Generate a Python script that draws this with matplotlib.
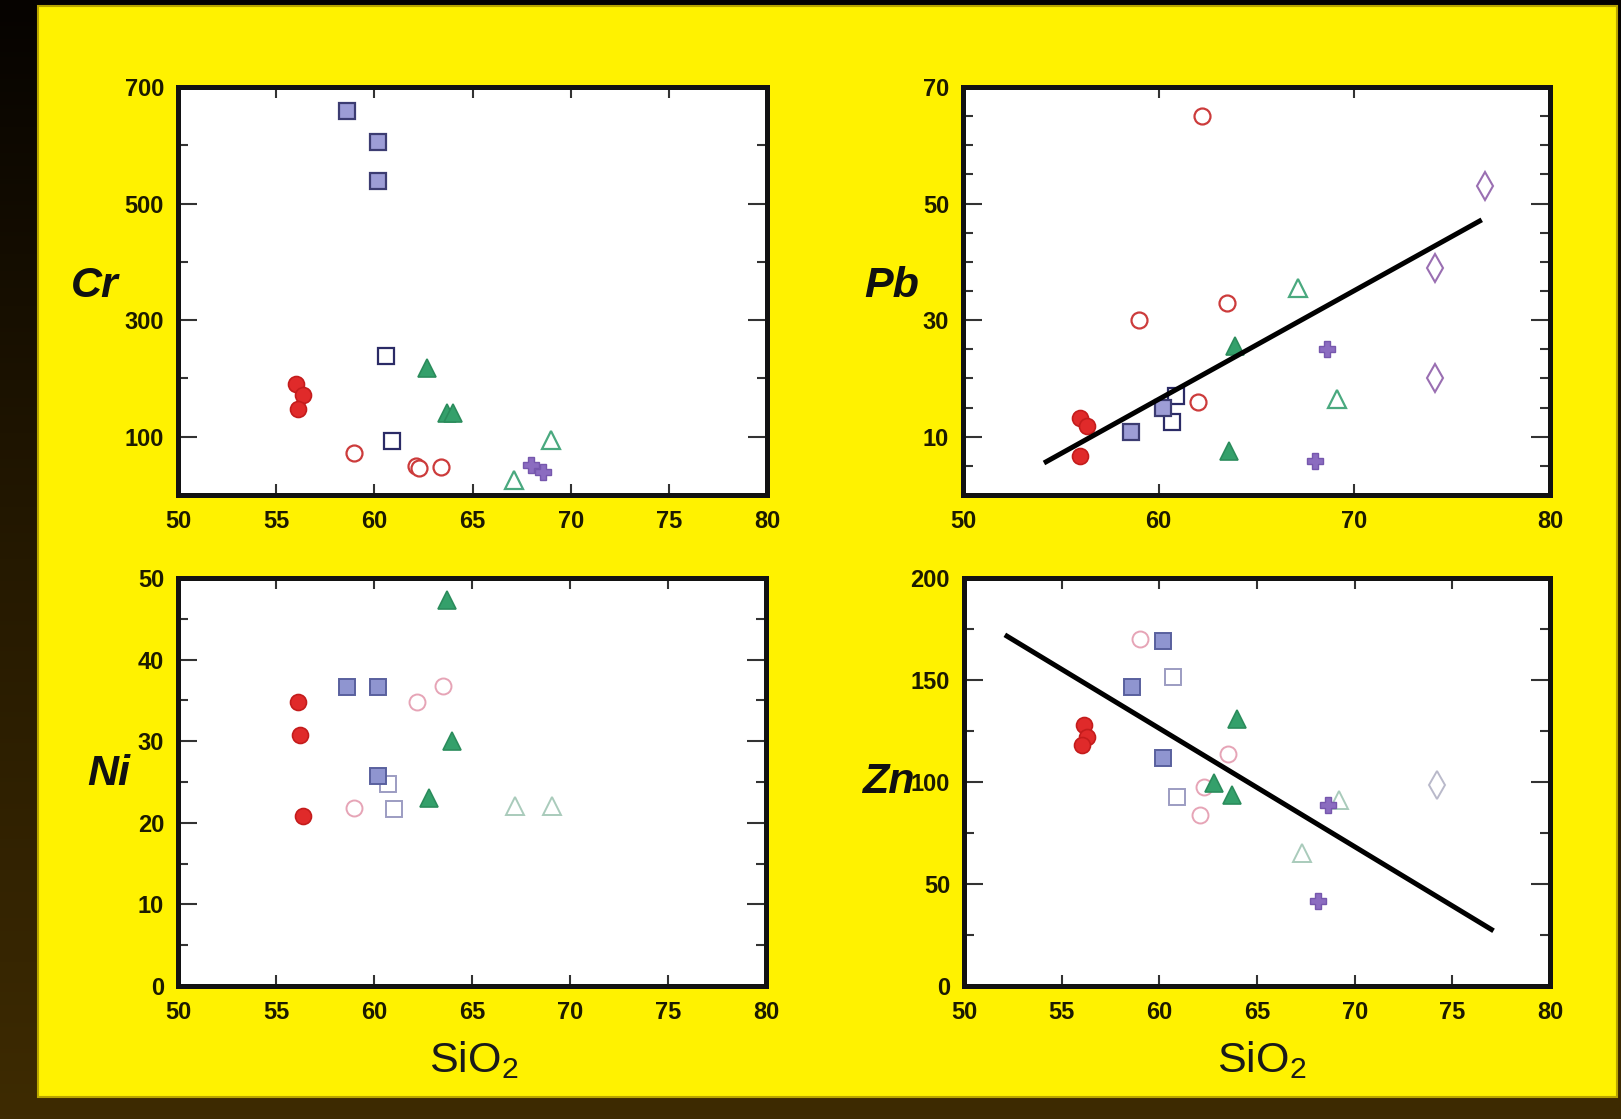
import numpy as np
import matplotlib.pyplot as plt
from matplotlib.colors import LinearSegmentedColormap
from matplotlib.patches import Rectangle
from matplotlib.ticker import FixedLocator, MultipleLocator

plt.rcParams['font.family'] = ['Liberation Sans', 'DejaVu Sans']

# ---- data: (SiO2, element) per sample group ----
# Cr
cr_red_fill = ([56.0, 56.35, 56.1], [190, 172, 148])
cr_red_open = ([58.95, 62.1, 62.3, 63.4], [72, 49, 46, 48])
cr_blue_fill = ([58.6, 60.2, 60.2], [659, 605, 538])
cr_blue_open = ([60.6, 60.9], [238, 92])
cr_green_fill = ([62.7, 63.7, 64.0], [218, 141, 140])
cr_green_open = ([67.1, 69.0], [25, 95])
cr_purple_plus = ([68.0, 68.6], [52, 40])

# Pb
pb_red_fill = ([56.0, 56.35, 56.0], [13.2, 11.8, 6.7])
pb_red_open = ([62.2, 59.0, 63.5, 62.0], [65, 30, 33, 16])
pb_blue_fill = ([58.6, 60.2], [10.8, 15])
pb_blue_open = ([60.9, 60.7], [17, 12.6])
pb_green_fill = ([63.9, 63.6], [25.5, 7.5])
pb_green_open = ([67.1, 69.1], [35.5, 16.5])
pb_purple_plus = ([68.6, 68.0], [25, 5.8])
pb_purple_diamond = ([76.7, 74.1, 74.1], [53, 39, 20])
pb_line_x = [54.25, 76.4]
pb_line_y = [5.7, 47.0]

# Ni
ni_red_fill = ([56.1, 56.2, 56.4], [34.8, 30.8, 20.8])
ni_red_open = ([62.2, 63.5, 59.0], [34.8, 36.8, 21.8])
ni_blue_fill = ([58.6, 60.2, 60.2], [36.7, 36.7, 25.7])
ni_blue_open = ([60.7, 61.0], [24.8, 21.7])
ni_green_fill = ([63.7, 64.0, 62.8], [47.3, 30, 23])
ni_green_open = ([67.2, 69.1], [22, 22])

# Zn
zn_red_fill = ([56.15, 56.3, 56.05], [128, 122, 118])
zn_red_open = ([59.0, 63.5, 62.3, 62.1], [170, 113.8, 97.5, 83.6])
zn_blue_fill = ([60.2, 58.6, 60.2], [169, 146.7, 111.7])
zn_blue_open = ([60.7, 60.9], [151.6, 92.6])
zn_green_fill = ([64.0, 62.8, 63.7], [131, 99.5, 93.4])
zn_green_open = ([69.2, 67.3], [91, 65])
zn_purple_plus = ([68.65, 68.1], [88.8, 41.6])
zn_purple_diamond = ([74.2], [98.6])
zn_line_x = [52.2, 77.0]
zn_line_y = [171.5, 27.7]

W, H = 1621, 1119
fig = plt.figure(figsize=(W / 100, H / 100), dpi=100)

# dark backdrop with the yellow board on it
bg = fig.add_axes([0, 0, 1, 1], zorder=-10)
bg_cmap = LinearSegmentedColormap.from_list('bg', ['#060300', '#251900', '#3e2b02'])
bg.imshow(np.linspace(0, 1, 256).reshape(-1, 1), aspect='auto', cmap=bg_cmap,
          extent=[0, 1, 0, 1], origin='upper')
bg.add_patch(Rectangle((38 / W, 1 - 1097 / H), (1617 - 38) / W, (1097 - 6) / H,
                       facecolor='#fff200', edgecolor='#b8a400', linewidth=1.5,
                       transform=bg.transAxes))
bg.set_xlim(0, 1)
bg.set_ylim(0, 1)
bg.axis('off')

top_style = {
    'red_fill': dict(marker='o', mfc='#e02a2a', mec='#c41c1c', ms=11.5, mew=1.2),
    'red_open': dict(marker='o', mfc='white', mec='#cc3b3b', ms=11.5, mew=1.6),
    'blue_fill': dict(marker='s', mfc='#9d9dd6', mec='#3c3c72', ms=11.5, mew=1.6),
    'blue_open': dict(marker='s', mfc='white', mec='#2b2b66', ms=11.5, mew=1.6),
    'green_fill': dict(marker='^', mfc='#34a06b', mec='#2b8c5c', ms=12.5, mew=1.2),
    'green_open': dict(marker='^', mfc='white', mec='#4aa97f', ms=12.5, mew=1.6),
    'purple_plus': dict(marker='P', mfc='#8b6cc0', mec='#7657ad', ms=12, mew=1.0),
    'purple_diamond': dict(marker='d', mfc='white', mec='#9a6fb2', ms=14, mew=1.5),
}
bottom_style = dict(top_style)
bottom_style['red_open'] = dict(marker='o', mfc='white', mec='#e6a4b6', ms=11.5, mew=1.4)
bottom_style['blue_open'] = dict(marker='s', mfc='white', mec='#9c9cc2', ms=11.5, mew=1.4)
bottom_style['green_open'] = dict(marker='^', mfc='white', mec='#a9cbbb', ms=12.5, mew=1.4)
bottom_style['purple_diamond'] = dict(marker='d', mfc='white', mec='#b9b9ca', ms=14, mew=1.4)
bottom_style['blue_fill'] = dict(marker='s', mfc='#8f95d0', mec='#59609e', ms=11.5, mew=1.4)


def make_axes(rect, yticks, yminor, ymax, xstep):
    ax = fig.add_axes(rect)
    ax.set_facecolor('white')
    ax.set_xlim(50, 80)
    ax.set_ylim(0, ymax)
    ax.xaxis.set_major_locator(MultipleLocator(xstep))
    ax.yaxis.set_major_locator(FixedLocator(yticks))
    ax.yaxis.set_minor_locator(MultipleLocator(yminor))
    ax.tick_params(axis='both', which='both', direction='in', top=True, right=True,
                   color='#333333', width=1.5, labelsize=17, labelcolor='#1c1a00')
    ax.tick_params(axis='x', which='major', length=8, pad=11)
    ax.tick_params(axis='y', which='major', length=14, pad=10)
    ax.tick_params(axis='y', which='minor', length=7)
    for lab in ax.get_xticklabels() + ax.get_yticklabels():
        lab.set_fontweight('bold')
    for sp in ax.spines.values():
        sp.set_linewidth(3.6)
        sp.set_color('#121212')
    return ax


def plot_groups(ax, groups, style):
    for key, (xs, ys) in groups:
        ax.plot(xs, ys, linestyle='none', clip_on=False, zorder=3, **style[key])


ax_cr = make_axes([178 / W, 1 - 495 / H, 589 / W, 408 / H], [100, 300, 500, 700], 100, 700, 5)
plot_groups(ax_cr, [('red_open', cr_red_open), ('blue_open', cr_blue_open),
                    ('green_open', cr_green_open), ('blue_fill', cr_blue_fill),
                    ('green_fill', cr_green_fill), ('purple_plus', cr_purple_plus),
                    ('red_fill', cr_red_fill)], top_style)

ax_pb = make_axes([963 / W, 1 - 495 / H, 587 / W, 408 / H], [10, 30, 50, 70], 5, 70, 10)
plot_groups(ax_pb, [('red_open', pb_red_open), ('blue_open', pb_blue_open),
                    ('green_open', pb_green_open), ('purple_diamond', pb_purple_diamond),
                    ('blue_fill', pb_blue_fill), ('green_fill', pb_green_fill),
                    ('purple_plus', pb_purple_plus), ('red_fill', pb_red_fill)], top_style)
ax_pb.plot(pb_line_x, pb_line_y, color='black', linewidth=3.6, zorder=4)

ax_ni = make_axes([178 / W, 1 - 986 / H, 588 / W, 408 / H], list(range(0, 51, 10)), 5, 50, 5)
plot_groups(ax_ni, [('red_open', ni_red_open), ('blue_open', ni_blue_open),
                    ('green_open', ni_green_open), ('blue_fill', ni_blue_fill),
                    ('green_fill', ni_green_fill), ('red_fill', ni_red_fill)], bottom_style)

ax_zn = make_axes([964 / W, 1 - 986 / H, 586 / W, 408 / H], list(range(0, 201, 50)), 25, 200, 5)
plot_groups(ax_zn, [('red_open', zn_red_open), ('blue_open', zn_blue_open),
                    ('green_open', zn_green_open), ('purple_diamond', zn_purple_diamond),
                    ('blue_fill', zn_blue_fill), ('green_fill', zn_green_fill),
                    ('purple_plus', zn_purple_plus), ('red_fill', zn_red_fill)], bottom_style)
ax_zn.plot(zn_line_x, zn_line_y, color='black', linewidth=3.6, zorder=4)

# element names and SiO2 labels
for name, (px, py) in [('Cr', (95, 286)), ('Pb', (892, 286)), ('Ni', (109, 774)), ('Zn', (888, 782))]:
    fig.text(px / W, 1 - py / H, name, fontsize=31, fontweight='bold', fontstyle='italic',
             ha='center', va='center', color='#111111')
for px in (474, 1262):
    fig.text(px / W, 1 - 1060 / H, r'SiO$_\mathregular{2}$', fontsize=31,
             ha='center', va='center', color='#1a1a1a')

fig.savefig('out.png', dpi=100)
